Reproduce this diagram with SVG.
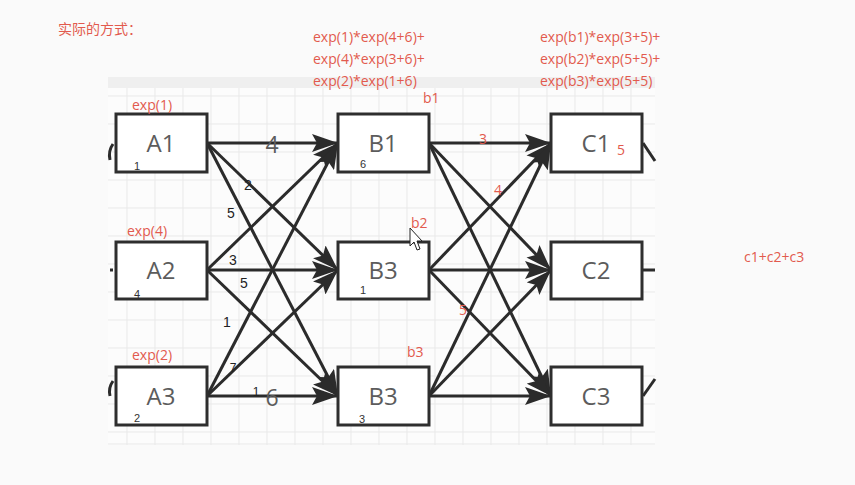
<svg xmlns="http://www.w3.org/2000/svg" width="855" height="485" viewBox="0 0 855 485">
  <style>
    .red { fill: #e25a4e; font-family: "Open Sans", "Noto Sans", "Noto Sans CJK SC", sans-serif; font-size: 14px; }
    .box rect { fill: #ffffff; stroke: #2e2e2e; stroke-width: 3; }
    .box .name { fill: #5c5c5c; font-family: "Open Sans", "Liberation Sans", sans-serif; font-size: 24px; text-anchor: middle; }
    .box .idx { fill: #333333; font-family: "Liberation Sans", sans-serif; font-size: 11px; }
    .edge { stroke: #2b2b2b; stroke-width: 3; fill: none; marker-end: url(#head); }
    .stub { stroke: #2b2b2b; stroke-width: 3; fill: none; }
    .w { fill: #222222; font-family: "Liberation Sans", sans-serif; font-size: 14px; text-anchor: middle; }
    .big { fill: #5c5c5c; font-family: "Open Sans", "Liberation Sans", sans-serif; font-size: 23px; text-anchor: middle; }
    .grid line { stroke: #e9e9e9; stroke-width: 1; }
  </style>
  <defs>
    <marker id="head" markerUnits="userSpaceOnUse" viewBox="0 0 26 18" markerWidth="26" markerHeight="18" refX="26" refY="9" orient="auto">
      <path d="M0,0 L26,9 L0,18 L5,9 Z" fill="#2b2b2b"/>
    </marker>
  </defs>

  <!-- page -->
  <rect x="0" y="0" width="855" height="485" fill="#fafafa"/>

  <!-- canvas with grid -->
  <rect x="108" y="77" width="547" height="368" fill="#fcfcfc"/>
  <rect x="108" y="77" width="547" height="11" fill="#efefef"/>
  <g class="grid">
    <line x1="108" y1="96" x2="655" y2="96"/>
    <line x1="108" y1="124" x2="655" y2="124"/>
    <line x1="108" y1="152" x2="655" y2="152"/>
    <line x1="108" y1="180" x2="655" y2="180"/>
    <line x1="108" y1="208" x2="655" y2="208"/>
    <line x1="108" y1="236" x2="655" y2="236"/>
    <line x1="108" y1="264" x2="655" y2="264"/>
    <line x1="108" y1="292" x2="655" y2="292"/>
    <line x1="108" y1="320" x2="655" y2="320"/>
    <line x1="108" y1="348" x2="655" y2="348"/>
    <line x1="108" y1="376" x2="655" y2="376"/>
    <line x1="108" y1="404" x2="655" y2="404"/>
    <line x1="108" y1="432" x2="655" y2="432"/>
    <line x1="108" y1="444" x2="655" y2="444"/>
    <line x1="127" y1="88" x2="127" y2="445"/>
    <line x1="155" y1="88" x2="155" y2="445"/>
    <line x1="183" y1="88" x2="183" y2="445"/>
    <line x1="211" y1="88" x2="211" y2="445"/>
    <line x1="239" y1="88" x2="239" y2="445"/>
    <line x1="267" y1="88" x2="267" y2="445"/>
    <line x1="295" y1="88" x2="295" y2="445"/>
    <line x1="323" y1="88" x2="323" y2="445"/>
    <line x1="351" y1="88" x2="351" y2="445"/>
    <line x1="379" y1="88" x2="379" y2="445"/>
    <line x1="407" y1="88" x2="407" y2="445"/>
    <line x1="435" y1="88" x2="435" y2="445"/>
    <line x1="463" y1="88" x2="463" y2="445"/>
    <line x1="491" y1="88" x2="491" y2="445"/>
    <line x1="519" y1="88" x2="519" y2="445"/>
    <line x1="547" y1="88" x2="547" y2="445"/>
    <line x1="575" y1="88" x2="575" y2="445"/>
    <line x1="603" y1="88" x2="603" y2="445"/>
    <line x1="631" y1="88" x2="631" y2="445"/>
  </g>

  <!-- connectors -->
  <g id="connectors">
    <path class="edge" d="M207,143 L338,143"/>
    <path class="edge" d="M207,143 L338,270"/>
    <path class="edge" d="M207,143 L338,396"/>
    <path class="edge" d="M207,270 L338,143"/>
    <path class="edge" d="M207,270 L338,270"/>
    <path class="edge" d="M207,270 L338,396"/>
    <path class="edge" d="M207,396 L338,143"/>
    <path class="edge" d="M207,396 L338,270"/>
    <path class="edge" d="M207,396 L338,396"/>
    <path class="edge" d="M429,143 L551,143"/>
    <path class="edge" d="M429,143 L551,270"/>
    <path class="edge" d="M429,143 L551,396"/>
    <path class="edge" d="M429,270 L551,143"/>
    <path class="edge" d="M429,270 L551,270"/>
    <path class="edge" d="M429,270 L551,396"/>
    <path class="edge" d="M429,396 L551,143"/>
    <path class="edge" d="M429,396 L551,270"/>
    <path class="edge" d="M429,396 L551,396"/>
    <!-- stubs leaving the canvas -->
    <path class="stub" d="M113,144 Q108,151 110,160"/>
    <path class="stub" d="M110,270 L113,270"/>
    <path class="stub" d="M113,381 Q108,388 110,396"/>
    <path class="stub" d="M643,143 L655,161"/>
    <path class="stub" d="M643,270 L655,270"/>
    <path class="stub" d="M643,396 L655,379"/>
    <!-- weights -->
    <text class="big" x="272" y="153">4</text>
    <text class="w" x="248" y="190">2</text>
    <text class="w" x="231" y="218">5</text>
    <text class="w" x="233" y="265">3</text>
    <text class="w" x="244" y="288">5</text>
    <text class="w" x="227" y="327">1</text>
    <text class="w" x="233" y="372" style="font-size:12px">7</text>
    <text class="w" x="256" y="396" style="font-size:12px">1</text>
    <text class="big" x="272" y="406">6</text>
    <text class="red" x="483" y="144" text-anchor="middle">3</text>
    <text class="red" x="498" y="195" text-anchor="middle">4</text>
    <text class="red" x="463" y="315" text-anchor="middle">5</text>
  </g>

  <!-- nodes -->
  <g id="A1" class="box">
    <rect x="116" y="114" width="91" height="58"/>
    <text class="name" x="161" y="152">A1</text>
    <text class="idx" x="134" y="170">1</text>
  </g>
  <g id="A2" class="box">
    <rect x="116" y="242" width="91" height="57"/>
    <text class="name" x="161" y="279">A2</text>
    <text class="idx" x="134" y="298">4</text>
  </g>
  <g id="A3" class="box">
    <rect x="116" y="367" width="91" height="58"/>
    <text class="name" x="161" y="405">A3</text>
    <text class="idx" x="134" y="422">2</text>
  </g>
  <g id="B1" class="box">
    <rect x="338" y="114" width="91" height="58"/>
    <text class="name" x="383" y="152">B1</text>
    <text class="idx" x="360" y="168">6</text>
  </g>
  <g id="B2" class="box">
    <rect x="338" y="242" width="91" height="57"/>
    <text class="name" x="383" y="279">B3</text>
    <text class="idx" x="360" y="294">1</text>
  </g>
  <g id="B3" class="box">
    <rect x="338" y="367" width="91" height="58"/>
    <text class="name" x="383" y="405">B3</text>
    <text class="idx" x="359" y="423">3</text>
  </g>
  <g id="C1" class="box">
    <rect x="551" y="114" width="91" height="58"/>
    <text class="name" x="596" y="152">C1</text>
  </g>
  <g id="C2" class="box">
    <rect x="551" y="242" width="91" height="57"/>
    <text class="name" x="596" y="279">C2</text>
  </g>
  <g id="C3" class="box">
    <rect x="551" y="367" width="91" height="58"/>
    <text class="name" x="596" y="405">C3</text>
  </g>

  <!-- annotations -->
  <g id="notes">
    <text class="red" x="58" y="34">实际的方式：</text>
    <text class="red" x="313" y="42">exp(1)*exp(4+6)+</text>
    <text class="red" x="313" y="64">exp(4)*exp(3+6)+</text>
    <text class="red" x="313" y="86">exp(2)*exp(1+6)</text>
    <text class="red" x="540" y="42">exp(b1)*exp(3+5)+</text>
    <text class="red" x="540" y="64">exp(b2)*exp(5+5)+</text>
    <text class="red" x="540" y="86">exp(b3)*exp(5+5)</text>
    <text class="red" x="132" y="110">exp(1)</text>
    <text class="red" x="127" y="236">exp(4)</text>
    <text class="red" x="132" y="360">exp(2)</text>
    <text class="red" x="423" y="103">b1</text>
    <text class="red" x="411" y="228">b2</text>
    <text class="red" x="407" y="357">b3</text>
    <text class="red" x="617" y="155">5</text>
    <text class="red" x="744" y="262">c1+c2+c3</text>
  </g>

  <!-- pointer -->
  <path d="M410,228 L410,246 L414,242 L417,250 L420,249 L417,241 L422,241 Z" fill="#ffffff" stroke="#222222" stroke-width="1"/>
</svg>
